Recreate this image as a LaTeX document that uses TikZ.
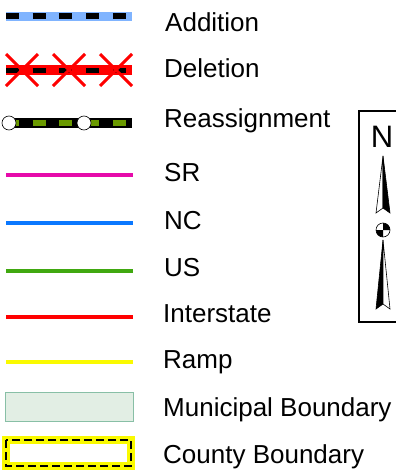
\documentclass[tikz,border=0pt]{standalone}
\usepackage{fontspec}
\setmainfont{Liberation Sans}
\usetikzlibrary{positioning}
\definecolor{addblue}{HTML}{80B4FF}
\definecolor{reagreen}{HTML}{6A9A00}
\definecolor{srpink}{HTML}{E60AAA}
\definecolor{ncblue}{HTML}{0A78FF}
\definecolor{usgreen}{HTML}{40A810}
\definecolor{rampyellow}{HTML}{FAFA00}
\definecolor{munifill}{HTML}{E2EEE4}
\definecolor{muniedge}{HTML}{88BFA6}

\begin{document}
\begin{tikzpicture}[%
  x=1pt, y=-1pt,
  legendtext/.style={anchor=base west, inner sep=0pt, font=\fontsize{26}{30}\selectfont},
  road/.style={line width=4pt},
  dashes/.style={dash pattern=on 13pt off 13.7pt},
]

  \useasboundingbox (0,0) rectangle (396,471);
  \clip (0,0) rectangle (396,471);

  % addition
  \draw[line width=9pt, addblue] (6,16) -- (132,16);
  \draw[line width=6.5pt, black, dashes] (6,16) -- (132,16);

  % deletion
  \draw[line width=10pt, red] (6,70) -- (132,70);
  \draw[line width=5pt, black, dashes] (6,70) -- (132,70);
  \foreach \cx in {22,69,116}
    \draw[line width=3pt, red] (\cx-16,54) -- (\cx+16,86) (\cx-16,86) -- (\cx+16,54);

  % reassignment
  \draw[line width=10pt, black] (4,123) -- (132,123);
  \draw[line width=6pt, reagreen, dashes] (6,123) -- (132,123);
  \draw[fill=white, line width=0.6pt] (9,123) circle (7pt);
  \draw[fill=white, line width=0.6pt] (84,123) circle (7pt);

  \draw[road, srpink] (6,175) -- (133,175);
  \draw[road, ncblue] (6,223) -- (133,223);
  \draw[road, usgreen] (6,271) -- (133,271);
  \draw[road, red] (6,317) -- (133,317);
  \draw[road, rampyellow] (6,362) -- (133,362);

  % boundaries
  \draw[fill=munifill, draw=muniedge, line width=1pt] (5,392) rectangle (133,421);
  \draw[rampyellow, line width=8pt] (6,440) rectangle (131,466);
  \draw[black, line width=1.2pt, dash pattern=on 8pt off 4pt] (6,440) rectangle (131,466);

  \node[legendtext] (addition) at (165,31) {Addition};
  \node[legendtext] (deletion) at (164,77) {Deletion};
  \node[legendtext] (reassign) at (164,127) {Reassignment};
  \node[legendtext] (sr) at (164,181) {SR};
  \node[legendtext] (nc) at (164,229) {NC};
  \node[legendtext] (us) at (164,276) {US};
  \node[legendtext] (interstate) at (163,322) {Interstate};
  \node[legendtext] (ramp) at (163,368) {Ramp};
  \node[legendtext] (municipal) at (163,416) {Municipal Boundary};
  \node[legendtext] (county) at (163,463) {County Boundary};

  % north arrow
  \draw[line width=2pt] (359,111) rectangle (410,322);
  \node[anchor=base, inner sep=0pt, font=\fontsize{31}{34}\selectfont] (north) at (382,147) {N};
  \filldraw[fill=white, line width=0.6pt] (383,156) -- (376,213) -- (383,208) -- cycle;
  \filldraw[fill=black, line width=0.6pt] (383,156) -- (383,208) -- (390,213) -- cycle;
  \filldraw[fill=black, line width=0.6pt] (383,240) -- (376,309) -- (383,304) -- cycle;
  \filldraw[fill=white, line width=0.6pt] (383,240) -- (383,304) -- (390,309) -- cycle;
  \fill[black] (383,230) -- (390,230) arc[start angle=0, end angle=90, radius=7pt] -- cycle;
  \fill[black] (383,230) -- (376,230) arc[start angle=180, end angle=270, radius=7pt] -- cycle;
  \draw[line width=0.6pt] (383,230) circle (7pt);

\end{tikzpicture}
\end{document}
